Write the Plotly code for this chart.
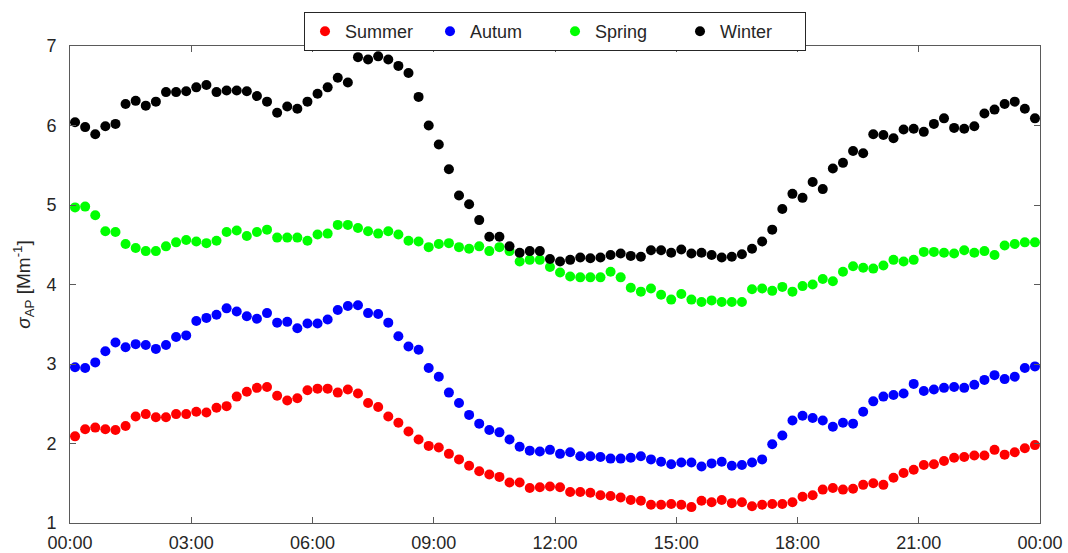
import plotly.graph_objects as go

# Time of day in hours for each 15-minute sample (bin centres)
hours = [i * 0.25 + 0.125 for i in range(96)]

summer = [2.09, 2.18, 2.20, 2.18, 2.17, 2.22, 2.34, 2.37, 2.33, 2.33, 2.37, 2.37, 2.40, 2.39, 2.45, 2.47,
          2.59, 2.65, 2.70, 2.71, 2.60, 2.54, 2.57, 2.67, 2.69, 2.69, 2.64, 2.68, 2.63, 2.51, 2.46, 2.34,
          2.26, 2.15, 2.05, 1.97, 1.95, 1.87, 1.80, 1.72, 1.65, 1.61, 1.58, 1.51, 1.51, 1.44, 1.45, 1.46,
          1.45, 1.39, 1.39, 1.38, 1.35, 1.34, 1.32, 1.29, 1.28, 1.23, 1.23, 1.24, 1.23, 1.20, 1.28, 1.26,
          1.29, 1.25, 1.26, 1.21, 1.23, 1.24, 1.24, 1.26, 1.33, 1.35, 1.42, 1.44, 1.42, 1.43, 1.48, 1.50,
          1.48, 1.57, 1.63, 1.67, 1.73, 1.74, 1.78, 1.82, 1.83, 1.85, 1.85, 1.92, 1.86, 1.89, 1.94, 1.98]

autum = [2.96, 2.95, 3.02, 3.16, 3.27, 3.21, 3.25, 3.24, 3.19, 3.24, 3.34, 3.36, 3.54, 3.58, 3.62, 3.70,
         3.66, 3.60, 3.57, 3.64, 3.52, 3.53, 3.45, 3.51, 3.51, 3.56, 3.68, 3.73, 3.74, 3.64, 3.63, 3.52,
         3.35, 3.22, 3.18, 2.95, 2.84, 2.64, 2.51, 2.36, 2.25, 2.17, 2.14, 2.05, 1.96, 1.91, 1.90, 1.92,
         1.87, 1.89, 1.84, 1.84, 1.83, 1.81, 1.81, 1.82, 1.84, 1.80, 1.77, 1.74, 1.76, 1.76, 1.71, 1.75,
         1.77, 1.72, 1.73, 1.76, 1.80, 1.99, 2.10, 2.29, 2.35, 2.32, 2.29, 2.21, 2.26, 2.25, 2.40, 2.53,
         2.59, 2.61, 2.63, 2.75, 2.66, 2.68, 2.70, 2.71, 2.70, 2.74, 2.80, 2.86, 2.81, 2.84, 2.95, 2.97]

spring = [4.97, 4.98, 4.87, 4.67, 4.66, 4.51, 4.46, 4.42, 4.42, 4.48, 4.53, 4.56, 4.54, 4.52, 4.55, 4.66,
          4.68, 4.61, 4.66, 4.69, 4.59, 4.59, 4.59, 4.55, 4.63, 4.64, 4.75, 4.75, 4.71, 4.67, 4.64, 4.67,
          4.63, 4.55, 4.54, 4.47, 4.51, 4.52, 4.47, 4.45, 4.48, 4.42, 4.47, 4.42, 4.29, 4.31, 4.31, 4.22,
          4.15, 4.10, 4.09, 4.09, 4.09, 4.16, 4.09, 3.96, 3.91, 3.95, 3.87, 3.81, 3.88, 3.81, 3.78, 3.80,
          3.78, 3.78, 3.78, 3.94, 3.95, 3.92, 3.97, 3.91, 3.98, 4.00, 4.07, 4.04, 4.16, 4.23, 4.21, 4.20,
          4.24, 4.31, 4.29, 4.31, 4.41, 4.41, 4.40, 4.39, 4.43, 4.40, 4.42, 4.37, 4.49, 4.51, 4.53, 4.53]

winter = [6.04, 5.98, 5.89, 5.99, 6.02, 6.27, 6.31, 6.25, 6.30, 6.42, 6.42, 6.43, 6.48, 6.51, 6.42, 6.44,
          6.44, 6.43, 6.37, 6.30, 6.16, 6.24, 6.21, 6.30, 6.40, 6.48, 6.60, 6.54, 6.86, 6.83, 6.87, 6.83,
          6.75, 6.66, 6.36, 6.00, 5.76, 5.45, 5.12, 5.01, 4.81, 4.60, 4.60, 4.48, 4.40, 4.42, 4.42, 4.32,
          4.29, 4.31, 4.34, 4.33, 4.34, 4.37, 4.39, 4.36, 4.35, 4.43, 4.43, 4.40, 4.44, 4.39, 4.40, 4.37,
          4.34, 4.35, 4.38, 4.45, 4.54, 4.69, 4.95, 5.14, 5.09, 5.29, 5.20, 5.46, 5.53, 5.68, 5.65, 5.89,
          5.88, 5.84, 5.95, 5.96, 5.92, 6.02, 6.09, 5.97, 5.96, 5.99, 6.15, 6.20, 6.27, 6.30, 6.21, 6.09]

series = [("Summer", summer, "#ff0000"), ("Autum", autum, "#0000ff"),
          ("Spring", spring, "#00ff00"), ("Winter", winter, "#000000")]

x_tick_vals = [0, 3, 6, 9, 12, 15, 18, 21, 24]
x_tick_text = ["00:00", "03:00", "06:00", "09:00", "12:00", "15:00", "18:00", "21:00", "00:00"]
y_tick_vals = [1, 2, 3, 4, 5, 6, 7]

TEXT = "#262626"
AXIS = "#5a5a5a"

fig = go.Figure()
for name, vals, color in series:
    fig.add_trace(go.Scatter(x=hours, y=vals, mode="markers", name=name,
                             marker=dict(color=color, size=10, line=dict(width=0))))

axis_common = dict(showline=True, linecolor=AXIS, linewidth=1, mirror="ticks",
                   ticks="inside", ticklen=6, tickcolor=AXIS, showgrid=False,
                   zeroline=False, automargin=False,
                   tickfont=dict(family="Arial", size=18, color=TEXT))

fig.update_xaxes(range=[0, 24], tickvals=x_tick_vals, ticktext=x_tick_text,
                 ticklabelstandoff=3, **axis_common)
fig.update_yaxes(range=[1, 7], tickvals=y_tick_vals, ticklabelstandoff=9,
                 title=dict(text="<i>σ</i><sub>AP</sub> [Mm<sup>-1</sup>]",
                            font=dict(family="Arial", size=19, color=TEXT), standoff=10),
                 **axis_common)

fig.update_layout(
    width=1068, height=553,
    margin=dict(l=70, r=28, t=44, b=30),
    plot_bgcolor="white", paper_bgcolor="white",
    font=dict(family="Arial", color=TEXT),
    legend=dict(orientation="h", x=0.5, xanchor="center", y=1.071, yanchor="top",
                bordercolor=TEXT, borderwidth=1, bgcolor="white",
                font=dict(family="Arial", size=18), itemwidth=30,
                entrywidth=80, entrywidthmode="pixels"),
)

fig.write_html("out.html")
